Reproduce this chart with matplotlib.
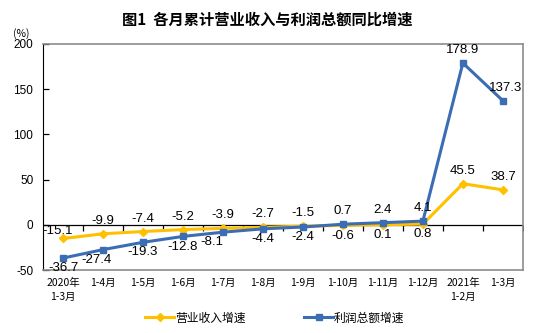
import matplotlib.pyplot as plt
import numpy as np

plt.rcParams['font.family'] = ['Noto Sans CJK SC', 'DejaVu Sans']

# Monthly cumulative growth, %
months = ['2020年\n1-3月', '1-4月', '1-5月', '1-6月', '1-7月', '1-8月', '1-9月',
          '1-10月', '1-11月', '1-12月', '2021年\n1-2月', '1-3月']
revenue = [-15.1, -9.9, -7.4, -5.2, -3.9, -2.7, -1.5, -0.6, 0.1, 0.8, 45.5, 38.7]
profit = [-36.7, -27.4, -19.3, -12.8, -8.1, -4.4, -2.4, 0.7, 2.4, 4.1, 178.9, 137.3]
yticks = [-50, 0, 50, 100, 150, 200]

YELLOW = '#FFC000'
BLUE = '#3B6DB5'
NUM_FONT = 'Liberation Sans'

fig = plt.figure(figsize=(5.39, 3.33), dpi=100)
ax = fig.add_axes([0.080, 0.189, 0.890, 0.679])

x = np.arange(len(months))
ax.plot(x, revenue, color=YELLOW, lw=2.2, marker='D', ms=4, label='营业收入增速', zorder=3)
ax.plot(x, profit, color=BLUE, lw=2.2, marker='s', ms=4, label='利润总额增速', zorder=4)

# zero line with category-boundary ticks
ax.axhline(0, color='black', lw=0.9, zorder=2)
ax.plot(np.arange(len(months)) + 0.5, np.zeros(len(months)), ls='none',
        marker=3, ms=4, mew=0.9, color='black', zorder=2)

# value labels: 'a' above the point, 'b' below
rev_pos = ['a'] * 7 + ['b'] * 3 + ['a'] * 2
pro_pos = ['b'] * 7 + ['a'] * 5
rev_dx = {0: -4}
pro_dx = {1: -5, 4: -8, 11: 2}
for i in range(len(months)):
    for vals, pos, dxs in ((revenue, rev_pos, rev_dx), (profit, pro_pos, pro_dx)):
        v = vals[i]
        dy = 5 if pos[i] == 'a' else -3
        if vals is revenue and i == 0:
            dy = 1
        ax.annotate(f'{v:.1f}', (x[i], v), xytext=(dxs.get(i, 0), dy),
                    textcoords='offset points', ha='center',
                    va='bottom' if pos[i] == 'a' else 'top',
                    fontsize=9.5, family=NUM_FONT, zorder=5)

ax.set_xlim(-0.5, len(months) - 0.5)
ax.set_ylim(-50, 200)
ax.set_yticks(yticks)
ax.set_yticklabels([str(t) for t in yticks], family=NUM_FONT, fontsize=8.5)
ax.tick_params(axis='y', direction='in', length=4, width=0.9, pad=7)
ax.set_xticks(x)
ax.set_xticklabels(months, fontsize=7.5, linespacing=1.4)
ax.tick_params(axis='x', length=0, pad=6)

ax.spines['left'].set_color('black')
for s in ('top', 'right', 'bottom'):
    ax.spines[s].set_color('#8C8C8C')
    ax.spines[s].set_linewidth(1.2)

fig.text(0.495, 0.94, '图1  各月累计营业收入与利润总额同比增速', ha='center', va='center',
         fontsize=11, fontweight='bold')
fig.text(0.040, 0.898, '(%)', ha='center', va='center', fontsize=7.5)

fig.legend(loc='center', bbox_to_anchor=(0.51, 0.045), ncol=2, frameon=False,
           fontsize=8.5, handlelength=2.4, columnspacing=5.0, handletextpad=0.1)

fig.savefig('out.png', dpi=100)
